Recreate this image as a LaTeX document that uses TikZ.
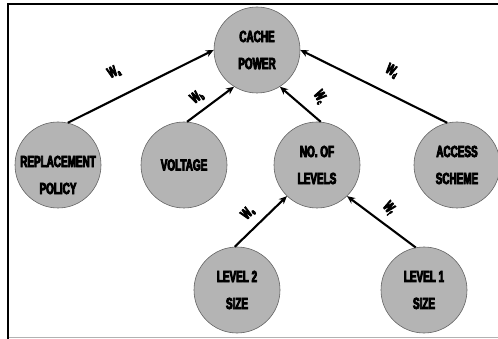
\documentclass[tikz,border=0pt]{standalone}
\usepackage{fontspec}
\newfontfamily\impfont[FakeStretch=0.62,FakeBold=5]{Liberation Sans}
\usetikzlibrary{arrows.meta}
\definecolor{nodegray}{RGB}{180,180,180}
\definecolor{rimgray}{RGB}{100,100,100}
\tikzset{
  factor/.style={circle,draw=rimgray,line width=0.6pt,fill=nodegray,minimum size=86pt,inner sep=0pt,align=center,
    font=\impfont\bfseries\fontsize{16}{27}\selectfont},
  conn/.style={line width=2.1pt,-{Stealth[length=8pt,width=7pt]}},
  wlab/.style={font=\impfont\bfseries\fontsize{15}{16}\selectfont,inner sep=0pt}
}
\newcommand{\wsub}[1]{W\raisebox{-2pt}{\fontsize{9}{10}\selectfont #1}}
\begin{document}
\begin{tikzpicture}[x=1pt,y=-1pt]
\useasboundingbox (0,0) rectangle (498,339);
\fill[white] (0,0) rectangle (498,339);
\draw[line width=2pt,black] (8,339) -- (8,4) -- (498,4);
\draw[line width=1pt,black!30] (9,337.5) -- (498,337.5);

\node[factor] (cache) at (257,50) {CACHE\\POWER};
\node[factor,label={[yshift=-10pt,align=center,font=\impfont\bfseries\fontsize{16}{27}\selectfont]center:REPLACEMENT\\POLICY}] (repl) at (58,165) {};
\node[factor] (volt) at (184,165) {VOLTAGE};
\node[factor] (levels) at (317,165) {NO. OF\\LEVELS};
\node[factor] (access) at (457,165) {ACCESS\\SCHEME};
\node[factor] (l2) at (237,290) {LEVEL 2\\SIZE};
\node[factor] (l1) at (424,290) {LEVEL 1\\SIZE};

\draw[conn] (repl.77) -- (cache.west);
\draw[conn] (volt.86) -- (cache.238);
\draw[conn] (levels.85) -- (cache.302);
\draw[conn] (access.103) -- (cache.east);
\draw[conn] (l2.93) -- (levels.226);
\draw[conn] (l1.101) -- (levels.314);

\node[wlab,rotate=26] (wa) at (114,72) {\wsub{a}};
\node[wlab,rotate=36] (wb) at (197,97) {\wsub{b}};
\node[wlab,rotate=-58] (wc) at (320,97) {\wsub{c}};
\node[wlab,rotate=-30] (wd) at (392,71) {\wsub{d}};
\node[wlab,rotate=46] (we) at (248,213) {\wsub{e}};
\node[wlab,rotate=-50] (wf) at (389,208) {\wsub{f}};
\end{tikzpicture}
\end{document}
